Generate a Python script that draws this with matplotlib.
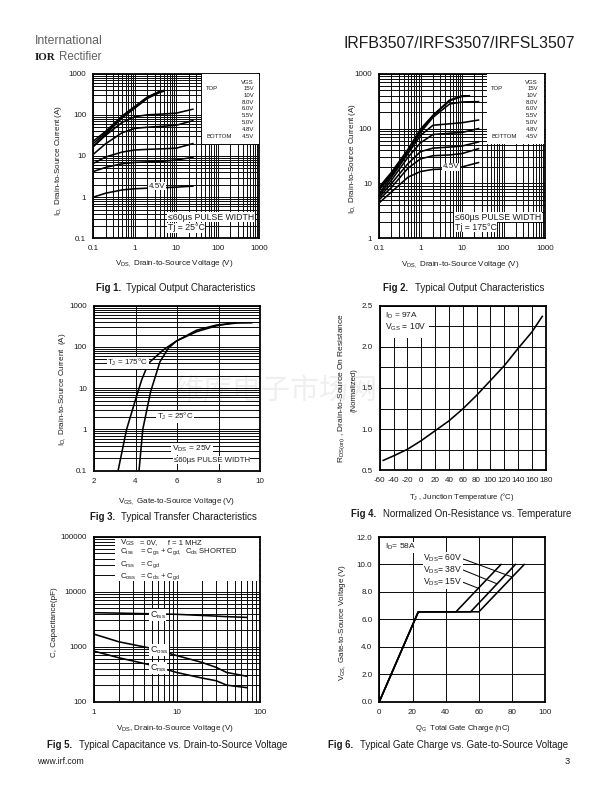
import numpy as np
import matplotlib
matplotlib.use('Agg')
import matplotlib.pyplot as plt
from matplotlib.patches import Rectangle
from matplotlib.ticker import LogLocator, NullFormatter, MultipleLocator

plt.rcParams['font.family'] = ['Liberation Sans', 'Noto Sans CJK SC', 'DejaVu Sans']
plt.rcParams['mathtext.fontset'] = 'custom'
plt.rcParams['mathtext.rm'] = 'Liberation Sans'
plt.rcParams['mathtext.default'] = 'regular'

INK = '#1c1c1c'
CURVE_LW = 1.6

# fig 1, 25C output curves
f1_vds = [0.1, 0.2, 0.5, 1, 2, 5, 10, 25]
f1_45 = [1.0, 1.25, 1.5, 1.6, 1.65, 1.7, 1.75, 1.85]
f1_48 = [4.2, 5.3, 6.5, 7.0, 7.2, 7.5, 8.0, 9.3]
f1_50 = [6.6, 9.5, 12.5, 14, 14.5, 15, 15.5, 20]
f1_55 = [11, 20, 37, 47, 50, 53, 56, 72]
f1_60 = [17, 32, 66, 90, 100, 105, 110, 137]
f1_hi_vds = [0.1, 0.2, 0.5, 1, 2, 4, 5]
f1_80 = [17, 34, 85, 145, 250, 350, 375]
f1_10 = [20, 37, 90, 155, 265, 365, 385]
f1_15 = [23, 40, 95, 160, 270, 375, 390]

# fig 2, 175C output curves
f2_vds = [0.1, 0.2, 0.5, 1, 2, 5, 10, 25]
f2_45 = [4.4, 7, 13, 16.5, 18, 18.5, 20, 24]
f2_48 = [5, 8.5, 19, 28, 32, 33, 35, 43]
f2_50 = [5.5, 10, 23, 38, 44, 46, 48, 57]
f2_55 = [6, 11.5, 30, 55, 78, 82, 85, 100]
f2_60 = [6.5, 13, 35, 75, 115, 122, 128, 143]
f2_80 = [7.5, 14, 38, 85, 160, 280, 305, 310]
f2_hi_vds = [0.1, 0.2, 0.5, 1, 2, 5, 10, 15]
f2_10 = [8, 15, 40, 92, 170, 320, 385, 390]
f2_15 = [8.5, 16, 42, 98, 175, 330, 395, 395]

# fig 3, transfer
f3_vgs_175 = [3.16, 3.57, 4.02, 4.3, 4.62, 5.34, 5.98, 6.95, 7.9, 8.75]
f3_id_175 = [0.1, 1, 5.7, 16, 40, 85, 140, 235, 325, 385]
f3_vgs_25 = [4.17, 4.35, 4.73, 5.18, 5.58, 5.98, 6.95, 7.9, 8.9, 9.6]
f3_id_25 = [0.1, 1, 8.3, 44, 93, 140, 255, 340, 380, 385]

# fig 4, on resistance
f4_temp = [-55, -40, -20, 0, 20, 40, 60, 80, 100, 120, 140, 160, 175]
f4_rds = [0.62, 0.675, 0.755, 0.86, 0.98, 1.10, 1.245, 1.41, 1.59, 1.77, 1.98, 2.18, 2.37]

# fig 5, capacitance
f5_vds = [1, 2, 5, 10, 20, 30, 40, 70]
f5_ciss = [4150, 4080, 3960, 3880, 3700, 3600, 3520, 3410]
f5_coss = [1700, 1230, 930, 690, 520, 420, 340, 290]
f5_crss = [835, 630, 460, 340, 270, 240, 200, 180]

# fig 6, gate charge
f6_qg_60 = [0, 23.5, 60, 87.3]
f6_qg_38 = [0, 23.5, 55, 82]
f6_qg_15 = [0, 23.5, 46.2, 73.3]
f6_vgs = [0, 6.55, 6.55, 10]
f6_pointer_from = [(49.6, 10.44), (49.6, 9.64), (49.6, 8.74)]
f6_pointer_to = [(79.7, 9.1), (70.7, 8.6), (60, 8.25)]

decade_x = [0.1, 1, 10, 100, 1000]
decade_x_lbl = ['0.1', '1', '10', '100', '1000']
f1_y = [0.1, 1, 10, 100, 1000]
f1_y_lbl = ['0.1', '1', '10', '100', '1000']
f2_y = [1, 10, 100, 1000]
f2_y_lbl = ['1', '10', '100', '1000']
f3_x = [2, 4, 6, 8, 10]
f4_x = list(range(-60, 181, 20))
f4_y = [0.5, 1.0, 1.5, 2.0, 2.5]
f5_x = [1, 10, 100]
f5_y = [100, 1000, 10000, 100000]
f6_x = [0, 20, 40, 60, 80, 100]
f6_y = [0, 2, 4, 6, 8, 10, 12]

vgs_lbl = ['VGS', '15V', '10V', '8.0V', '6.0V', '5.5V', '5.0V', '4.8V', '4.5V']
vgs_rows = [82.7, 89, 95.7, 102.3, 109, 115.7, 122.3, 129.3, 136.7]

fig = plt.figure(figsize=(8.5, 11), dpi=72, facecolor='white')


def make_ax(box, logx=False, logy=False):
    l, t, r, b = box
    ax = fig.add_axes([l / 612, 1 - b / 792, (r - l) / 612, (b - t) / 792])
    ax.patch.set_alpha(0)
    if logx:
        ax.set_xscale('log')
        ax.xaxis.set_minor_locator(LogLocator(base=10, subs=np.arange(2, 10), numticks=30))
        ax.xaxis.set_minor_formatter(NullFormatter())
    if logy:
        ax.set_yscale('log')
        ax.yaxis.set_minor_locator(LogLocator(base=10, subs=np.arange(2, 10), numticks=30))
        ax.yaxis.set_minor_formatter(NullFormatter())
    for s in ax.spines.values():
        s.set_linewidth(1.8)
        s.set_color('black')
    ax.tick_params(which='both', length=0, labelsize=8, pad=7, colors=INK)
    ax.set_axisbelow(True)
    ax.grid(which='both', color='#101010', lw=1.0)
    return ax


def txt(x, y, s, size=7, ha='left', rot=0, white=False, **kw):
    if white:
        kw['bbox'] = dict(fc='white', ec='none', pad=0.6)
    return fig.text(x / 612, 1 - y / 792, s, fontsize=size, ha=ha, va='center',
                    rotation=rot, color=INK, zorder=5, **kw)


def white_box(x0, y0, x1, y1):
    fig.add_artist(Rectangle((x0 / 612, 1 - y1 / 792), (x1 - x0) / 612, (y1 - y0) / 792,
                             transform=fig.transFigure, fc='white', ec='none', zorder=4))


def caption(x_bold, x_norm, y, num, rest):
    txt(x_bold, y, num, size=9.6, fontweight='bold')
    txt(x_norm, y, rest, size=9.8)


# page furniture
txt(35, 41.5, 'International', size=12.2, alpha=0.7)
txt(35, 57, 'IOR', size=11, fontweight='bold', family='Liberation Serif')
txt(59, 57, 'Rectifier', size=11.5, alpha=0.7)
txt(459, 43, 'IRFB3507/IRFS3507/IRFSL3507', size=15.9, ha='center')
txt(36.7, 761, 'www.irf.com', size=8.6)
txt(570, 761.5, '3', size=9.2, ha='right')
fig.text(276 / 612, 1 - 391 / 792, '维库电子市场网', fontsize=29, ha='center', va='center',
         color='#efefef', family='Noto Sans CJK SC', zorder=-1)

# Fig 1
ax1 = make_ax((93.3, 73.7, 259.3, 238.3), True, True)
for ys in (f1_45, f1_48, f1_50, f1_55, f1_60):
    ax1.plot(f1_vds, ys, color='black', lw=CURVE_LW, zorder=3)
for ys in (f1_80, f1_10, f1_15):
    ax1.plot(f1_hi_vds, ys, color='black', lw=CURVE_LW, zorder=3)
ax1.set_xlim(0.1, 1000)
ax1.set_ylim(0.1, 1000)
ax1.set_xticks(decade_x, decade_x_lbl)
ax1.set_yticks(f1_y, f1_y_lbl)
white_box(201.7, 74.5, 258.5, 144)
for row, lbl in zip(vgs_rows, vgs_lbl):
    txt(254, row, lbl, size=6, ha='right')
txt(206, 89, 'TOP', size=6)
txt(206, 136.7, 'BOTTOM', size=6)
txt(157, 186, '4.5V', size=8, ha='center', white=True)
txt(168, 217, '≤60µs PULSE WIDTH', size=8.7, white=True)
txt(168, 228, 'Tj = 25°C', size=8.7, white=True)
txt(174, 264, 'V$_{DS,}$ Drain-to-Source Voltage (V)', size=8, ha='center')
txt(59, 160, 'I$_{D,}$ Drain-to-Source Current (A)', size=8, ha='center', rot=90)
caption(96, 126, 287.7, 'Fig 1.', 'Typical Output Characteristics')

# Fig 2
ax2 = make_ax((379, 73.7, 545, 238.3), True, True)
for ys in (f2_45, f2_48, f2_50, f2_55, f2_60, f2_80):
    ax2.plot(f2_vds, ys, color='black', lw=CURVE_LW, zorder=3)
for ys in (f2_10, f2_15):
    ax2.plot(f2_hi_vds, ys, color='black', lw=CURVE_LW, zorder=3)
ax2.set_xlim(0.1, 1000)
ax2.set_ylim(1, 1000)
ax2.set_xticks(decade_x, decade_x_lbl)
ax2.set_yticks(f2_y, f2_y_lbl)
white_box(486.7, 74.5, 544.2, 144)
for row, lbl in zip(vgs_rows, vgs_lbl):
    txt(537.7, row, lbl, size=6, ha='right')
txt(491, 89, 'TOP', size=6)
txt(491, 136.7, 'BOTTOM', size=6)
txt(451, 167, '4.5V', size=8, ha='center', white=True)
txt(455, 217, '≤60µs PULSE WIDTH', size=8.7, white=True)
txt(455, 227, 'Tj = 175°C', size=8.7, white=True)
txt(460, 265, 'V$_{DS,}$ Drain-to-Source Voltage (V)', size=8, ha='center')
txt(353, 158, 'I$_{D,}$ Drain-to-Source Current (A)', size=8, ha='center', rot=90)
caption(383, 415, 287.7, 'Fig 2.', 'Typical Output Characteristics')

# Fig 3
ax3 = make_ax((94, 305.7, 260, 470.7), False, True)
ax3.plot(f3_vgs_175, f3_id_175, color='black', lw=CURVE_LW, zorder=3)
ax3.plot(f3_vgs_25, f3_id_25, color='black', lw=CURVE_LW, zorder=3)
ax3.set_xlim(2, 10)
ax3.set_ylim(0.1, 1000)
ax3.set_xticks(f3_x, [str(v) for v in f3_x])
ax3.set_yticks(f1_y, f1_y_lbl)
txt(128, 362.7, 'T$_{J}$ = 175°C', size=8, ha='center', white=True)
txt(175, 416.7, 'T$_{J}$ = 25°C', size=8, ha='center', white=True)
txt(192, 449, 'V$_{DS}$ = 25V', size=8.4, ha='center', white=True)
txt(211.7, 460, '≤60µs PULSE WIDTH', size=7.8, ha='center', white=True)
txt(177, 501.7, 'V$_{GS,}$ Gate-to-Source Voltage (V)', size=8, ha='center')
txt(63, 389, 'I$_{D,}$ Drain-to-Source Current  (A)', size=8, ha='center', rot=90)
caption(90, 120.7, 517, 'Fig 3.', 'Typical Transfer Characteristics')

# Fig 4
ax4 = make_ax((379.7, 305.7, 545.7, 470.3))
ax4.plot(f4_temp, f4_rds, color='black', lw=CURVE_LW, zorder=3)
ax4.set_xlim(-60, 180)
ax4.set_ylim(0.5, 2.5)
ax4.set_xticks(f4_x, [str(v) for v in f4_x])
ax4.set_yticks(f4_y, [f'{v:.1f}' for v in f4_y])
ax4.yaxis.set_minor_locator(MultipleLocator(0.25))
white_box(380.5, 306.5, 429.3, 338.3)
txt(385, 315.7, 'I$_{D}$ = 97A', size=8.3)
txt(385, 327, 'V$_{GS}$ = 10V', size=8.5)
txt(461.7, 496.7, 'T$_{J}$ , Junction Temperature (°C)', size=7.6, ha='center')
txt(342, 388, 'R$_{DS(on)}$ , Drain-to-Source On Resistance', size=8.4, ha='center', rot=90)
txt(354, 390, '(Normalized)', size=7.6, ha='center', rot=90)
caption(350.7, 383, 514, 'Fig 4.', 'Normalized On-Resistance vs. Temperature')

# Fig 5
ax5 = make_ax((93.7, 536.7, 259.7, 701.7), True, True)
for ys in (f5_ciss, f5_coss, f5_crss):
    ax5.plot(f5_vds, ys, color='black', lw=CURVE_LW, zorder=3)
ax5.set_xlim(1, 100)
ax5.set_ylim(100, 100000)
ax5.set_xticks(f5_x, [str(v) for v in f5_x])
ax5.set_yticks(f5_y, [str(v) for v in f5_y])
white_box(115.3, 537.5, 259, 581)
txt(120, 543, 'V$_{GS}$', size=8)
txt(120, 551.7, 'C$_{iss}$', size=8)
txt(120, 565, 'C$_{rss}$', size=8)
txt(120, 576.7, 'C$_{oss}$', size=8)
txt(140, 543, '= 0V,     f = 1 MHZ', size=7.6)
txt(140, 551.7, '= C$_{gs}$ + C$_{gd,}$  C$_{ds}$ SHORTED', size=7.6)
txt(140, 565, '= C$_{gd}$', size=7.6)
txt(140, 576.7, '= C$_{ds}$ + C$_{gd}$', size=7.6)
txt(157.7, 615, 'C$_{iss}$', size=9, ha='center', white=True)
txt(159, 650, 'C$_{oss}$', size=9, ha='center', white=True)
txt(158, 668, 'C$_{rss}$', size=9, ha='center', white=True)
txt(175, 728, 'V$_{DS}$, Drain-to-Source Voltage (V)', size=8, ha='center')
txt(55, 622, 'C, Capacitance(pF)', size=8, ha='center', rot=90)
caption(46.7, 79, 745, 'Fig 5.', 'Typical Capacitance vs. Drain-to-Source Voltage')

# Fig 6
ax6 = make_ax((379.3, 537, 545.3, 701.7))
for qg in (f6_qg_60, f6_qg_38, f6_qg_15):
    ax6.plot(qg, f6_vgs, color='black', lw=CURVE_LW, zorder=3)
for p0, p1 in zip(f6_pointer_from, f6_pointer_to):
    ax6.plot([p0[0], p1[0]], [p0[1], p1[1]], color='black', lw=1.0, zorder=3)
ax6.set_xlim(0, 100)
ax6.set_ylim(0, 12)
ax6.set_xticks(f6_x, [str(v) for v in f6_x])
ax6.set_yticks(f6_y, [f'{v:.1f}' for v in f6_y])
txt(385, 547.3, 'I$_{D}$= 58A', size=8.4, white=True)
txt(423.3, 558, 'V$_{DS}$= 60V', size=8.6, white=True)
txt(423.3, 570.7, 'V$_{DS}$= 38V', size=8.6, white=True)
txt(423.3, 582.7, 'V$_{DS}$= 15V', size=8.6, white=True)
txt(463, 729, 'Q$_{G}$  Total Gate Charge (nC)', size=7.6, ha='center')
txt(342, 622, 'V$_{GS,}$ Gate-to-Source Voltage (V)', size=8, ha='center', rot=90)
caption(327.7, 360, 745, 'Fig 6.', 'Typical Gate Charge vs. Gate-to-Source Voltage')

fig.savefig('out.png', dpi=72)
